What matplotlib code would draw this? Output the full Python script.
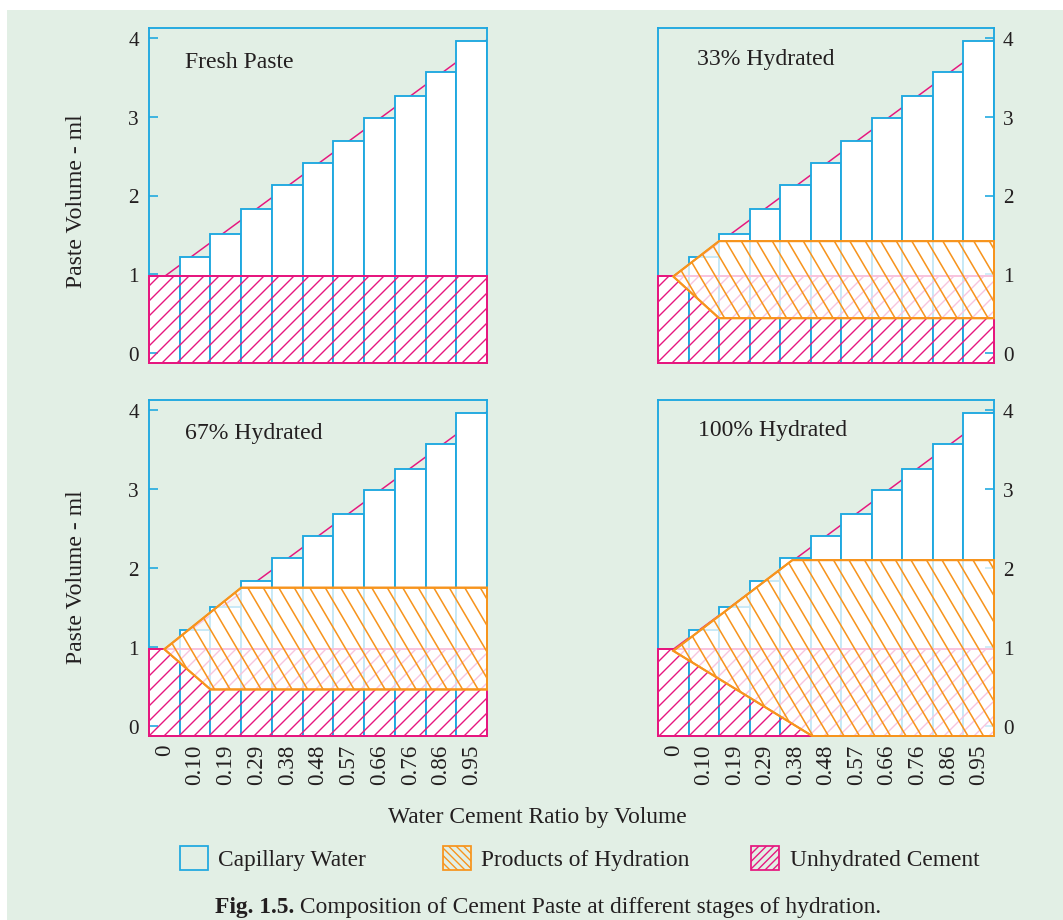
import matplotlib
matplotlib.use("Agg")
import matplotlib.pyplot as plt
import numpy as np
from matplotlib.collections import LineCollection
from matplotlib.patches import Polygon, Rectangle

# ---- data ------------------------------------------------------------------
wc_labels = ["0", "0.10", "0.19", "0.29", "0.38", "0.48", "0.57", "0.66", "0.76", "0.86", "0.95"]
paste_volume = [0.97, 1.22, 1.51, 1.83, 2.13, 2.41, 2.69, 2.99, 3.26, 3.57, 3.96]
cement_volume = 0.97
total_line_x = [0, 10.5]
total_line_y = [0.97, 3.98]

stage_titles = ["Fresh Paste", "33% Hydrated", "67% Hydrated", "100% Hydrated"]
# outline of the "products of hydration" region for each stage (None = fresh paste)
products_x = [None, [0, 1.5, 10.5, 10.5, 1.5], [0, 2.5, 10.5, 10.5, 1.5], [0, 3.9, 10.5, 10.5, 4.55]]
products_y = [None, [0.97, 1.42, 1.42, 0.44, 0.44], [0.97, 1.75, 1.75, 0.46, 0.46], [0.95, 2.10, 2.10, -0.13, -0.13]]

legend_labels = ["Capillary Water", "Products of Hydration", "Unhydrated Cement"]
caption_bold = "Fig. 1.5."
caption_rest = " Composition of Cement Paste at different stages of hydration."

# ---- style -----------------------------------------------------------------
DPI = 90
W, H = 1063, 921
BLUE = "#1ea8e0"
MAGENTA = "#e6177f"
ORANGE = "#f7941d"
BG = "#e2efe5"
INK = "#231f20"
Y_LO, Y_HI = -0.13, 4.13

plt.rcParams["font.family"] = ["Liberation Serif", "DejaVu Serif"]
plt.rcParams["hatch.linewidth"] = 1.1
plt.rcParams["text.color"] = INK


def steep_hatch(ax, patch, color, spacing_px=15.5, steepness=1.7):
    """Hatch lines steeper than 45 deg, clipped to patch (mpl hatches are 45 only)."""
    bbox = ax.get_position()
    w_px = bbox.width * W
    h_px = bbox.height * H
    m = steepness * w_px / h_px
    step = spacing_px / w_px
    segs = [[(c, 1.0), (c + 1.0 / m, 0.0)] for c in np.arange(-1.0 / m, 1.0 + step, step)]
    lc = LineCollection(segs, colors=color, linewidths=1.25, transform=ax.transAxes, zorder=4.5)
    ax.add_collection(lc)
    lc.set_clip_path(patch)


fig = plt.figure(figsize=(W / DPI, H / DPI), dpi=DPI)
fig.patch.set_facecolor("white")
fig.add_artist(Rectangle((7 / W, 0), 1 - 7 / W, 1 - 11 / H, transform=fig.transFigure,
                         facecolor=BG, edgecolor="none", zorder=-5))

# panel boxes in pixels: left, top, right, bottom
panel_px = [(149, 29, 487, 364), (658, 29, 994, 364), (149, 401, 487, 737), (658, 401, 994, 737)]
title_pos = [(0.1065, 0.90), (0.117, 0.91), (0.1065, 0.902), (0.119, 0.911)]

x = np.arange(len(paste_volume))
for i, (l, t, r, b) in enumerate(panel_px):
    ax = fig.add_axes([l / W, 1 - b / H, (r - l) / W, (b - t) / H])
    ax.set_facecolor("none")
    ax.set_xlim(-0.5, 10.5)
    ax.set_ylim(Y_LO, Y_HI)
    ax.set_axisbelow(False)
    for sp in ax.spines.values():
        sp.set_color(BLUE)
        sp.set_linewidth(1.5)

    ax.plot(total_line_x, total_line_y, color=MAGENTA, lw=1.2, zorder=1)
    ax.bar(x, np.array(paste_volume) - Y_LO, bottom=Y_LO, width=1.0,
           facecolor="white", edgecolor=BLUE, linewidth=1.5, zorder=2)
    cement = Rectangle((-0.5, Y_LO), 11, cement_volume - Y_LO, facecolor="none",
                       edgecolor=MAGENTA, hatch="//", linewidth=1.6, zorder=3, clip_on=False)
    ax.add_patch(cement)

    if products_x[i] is not None:
        outline = np.column_stack([products_x[i], products_y[i]])
        prod = Polygon(outline, closed=True, facecolor=(1, 1, 1, 0.75), edgecolor=ORANGE,
                       linewidth=1.6, zorder=4, clip_on=False)
        ax.add_patch(prod)
        steep_hatch(ax, prod, ORANGE)
        # outline once more above the hatch lines
        ax.add_patch(Polygon(outline, closed=True, facecolor="none", edgecolor=ORANGE,
                             linewidth=1.6, zorder=4.6, clip_on=False))

    ax.set_yticks([0, 1, 2, 3, 4])
    if i % 2 == 0:
        ax.tick_params(axis="y", direction="in", length=7.2, width=1.3, color=BLUE,
                       labelsize=17, labelcolor=INK, pad=8)
    else:
        ax.yaxis.tick_right()
        ax.tick_params(axis="y", direction="in", length=7.2, width=1.3, color=BLUE,
                       labelsize=17, labelcolor=INK, pad=7, left=False, right=True,
                       labelleft=False, labelright=True)
    if i >= 2:
        ax.set_xticks(x, wc_labels, rotation=90)
        ax.tick_params(axis="x", length=0, labelsize=18.5, labelcolor=INK, pad=6)
    else:
        ax.set_xticks(x)
        ax.tick_params(axis="x", length=0, labelbottom=False)

    ax.text(title_pos[i][0], title_pos[i][1], stage_titles[i], transform=ax.transAxes,
            ha="left", va="center", fontsize=19, color=INK, zorder=6)

for yc in (201.5, 577):
    fig.text(77 / W, 1 - yc / H, "Paste Volume - ml", rotation=90, ha="center", va="center",
             fontsize=19)
fig.text(537 / W, 1 - 822.7 / H, "Water Cement Ratio by Volume", ha="center",
         va="baseline", fontsize=18.8)

# legend, laid out by hand to match the uneven spacing of the original
legend_px = [(180, BLUE, None, 217.6), (442.5, ORANGE, "\\\\\\\\", 481), (751, MAGENTA, "////", 790)]
for (px, col, hatch, tx), lab in zip(legend_px, legend_labels):
    fig.add_artist(Rectangle((px / W, 1 - 871 / H), 28 / W, 24 / H, transform=fig.transFigure,
                             facecolor="none", edgecolor=col, hatch=hatch, linewidth=1.4))
    fig.text(tx / W, 1 - 866 / H, lab, ha="left", va="baseline", fontsize=18.7)

cap = fig.text(215 / W, 1 - 913 / H, caption_bold, ha="left", va="baseline",
               fontsize=18.8, weight="bold")
bb = cap.get_window_extent(fig.canvas.get_renderer())
fig.text(bb.x1 / W, 1 - 913 / H, caption_rest, ha="left", va="baseline", fontsize=18.8)

fig.savefig("out.png", dpi=DPI)
